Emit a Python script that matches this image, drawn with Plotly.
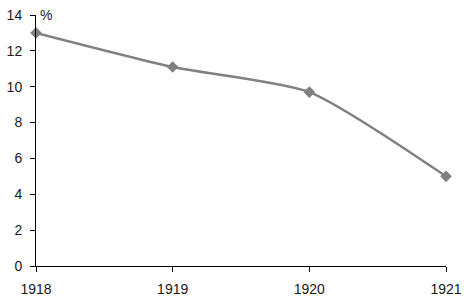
import plotly.graph_objects as go

years = [1918, 1919, 1920, 1921]
values = [13.0, 11.1, 9.7, 5.0]
y_ticks = [0, 2, 4, 6, 8, 10, 12, 14]

fig = go.Figure()
fig.add_trace(go.Scatter(
    x=years, y=values, mode="lines+markers",
    line=dict(color="#808080", width=2.4, shape="spline", smoothing=0.6),
    marker=dict(symbol="diamond", size=9, color="#808080"),
    cliponaxis=False, showlegend=False,
))

fig.update_layout(
    width=469, height=300,
    margin=dict(l=36, r=23, t=15, b=34),
    plot_bgcolor="white", paper_bgcolor="white",
    font=dict(family="Liberation Sans, Arial, sans-serif", size=14, color="#1a1a1a"),
)
fig.update_xaxes(
    range=[1918, 1921], tickvals=years, ticktext=[str(y) for y in years],
    showgrid=False, zeroline=False, showline=True, linecolor="black", linewidth=1,
    ticks="outside", ticklen=5, tickcolor="black", ticklabelstandoff=5,
    automargin=False,
)
fig.update_yaxes(
    range=[0, 14], tickvals=y_ticks,
    showgrid=False, zeroline=False, showline=True, linecolor="black", linewidth=1,
    ticks="outside", ticklen=5, tickcolor="black", ticklabelstandoff=5,
    automargin=False,
)
fig.add_annotation(
    text="%", xref="paper", yref="y", x=0, y=14, xanchor="left", yanchor="middle",
    xshift=2, showarrow=False, font=dict(size=14, color="#1a1a1a"),
)
fig.write_html("out.html")
